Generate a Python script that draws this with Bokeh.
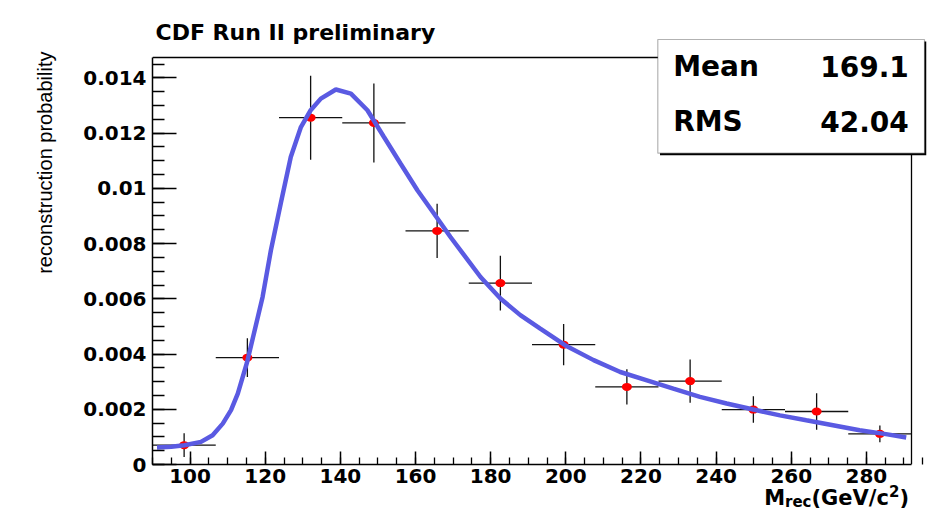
from bokeh.plotting import figure
from bokeh.models import Range1d, FixedTicker, Label, BoxAnnotation, Title, Div
from bokeh.layouts import column
from bokeh.embed import file_html
from bokeh.resources import INLINE

# ---------------- DATA ----------------
bin_low = 90.0
bin_high = 292.0
n_bins = 12
prob = [0.00070, 0.00387, 0.01256, 0.01237, 0.00846, 0.00657,
        0.00434, 0.00281, 0.00302, 0.00199, 0.00192, 0.00111]
prob_err = [0.00043, 0.00070, 0.00152, 0.00143, 0.00098, 0.00099,
            0.00075, 0.00064, 0.00078, 0.00048, 0.00066, 0.00030]
fit_mass = [91.2, 95.0, 98.5, 102.9, 106.0, 108.7, 110.9, 112.7, 115.1, 117.2,
            119.3, 121.5, 124.2, 126.8, 129.5, 132.1, 134.8, 138.8, 142.8, 147.2,
            151.6, 156.0, 160.5, 164.9, 169.3, 177.3, 182.6, 187.9, 193.2, 199.9,
            207.4, 214.5, 221.6, 228.6, 235.7, 242.8, 249.9, 257.0, 264.0, 271.1,
            278.2, 285.2, 290.6]
fit_prob = [0.00062, 0.00064, 0.00070, 0.00082, 0.00106, 0.00148, 0.00197, 0.00257, 0.00367, 0.00486,
            0.00607, 0.00775, 0.00950, 0.01114, 0.01222, 0.01283, 0.01325, 0.01358, 0.01343, 0.01283,
            0.01186, 0.01090, 0.00993, 0.00909, 0.00824, 0.00679, 0.00601, 0.00541, 0.00492, 0.00431,
            0.00378, 0.00335, 0.00305, 0.00275, 0.00245, 0.00221, 0.00199, 0.00178, 0.00160, 0.00142,
            0.00124, 0.00110, 0.00098]
y_top = 0.01474
x_ticks = [100, 120, 140, 160, 180, 200, 220, 240, 260, 280]
y_ticks = [0, 0.002, 0.004, 0.006, 0.008, 0.01, 0.012, 0.014]
y_tick_labels = ["0", "0.002", "0.004", "0.006", "0.008", "0.01", "0.012", "0.014"]
stat_names = ["Mean", "RMS"]
stat_values = ["169.1", "42.04"]
title_text = "CDF Run II preliminary"
y_title = "reconstruction probability"
x_title_html = "M<sub>rec</sub>(GeV/c<sup>2</sup>)"
# --------------------------------------

bin_w = (bin_high - bin_low) / n_bins
centers = [bin_low + (i + 0.5) * bin_w for i in range(n_bins)]

# layout (picture pixels)
W, H = 940, 492
FL, FR, FT, FB = 152, 926, 20, 464      # Bokeh frame edges
AX_R, AX_T = 911, 57                    # where x=bin_high / y=y_top are drawn
sx = (AX_R - FL) / (bin_high - bin_low)
sy = (FB - AX_T) / y_top
X_END = bin_low + (FR - FL) / sx
Y_END = (FB - FT) / sy


def dx(px):
    return bin_low + (px - FL) / sx


def dy(py):
    return (FB - py) / sy


p = figure(width=W, height=H, output_backend="svg", toolbar_location=None,
           x_range=Range1d(bin_low, X_END), y_range=Range1d(0, Y_END),
           min_border_left=FL, min_border_right=W - FR, min_border_top=FT,
           min_border_bottom=H - FB,
           background_fill_color="white", border_fill_color="white",
           outline_line_color=None)
p.grid.visible = False

AX_FONT = "DejaVu Sans"

xa = p.xaxis[0]
xa.bounds = (bin_low, bin_high)
xa.ticker = FixedTicker(ticks=x_ticks, minor_ticks=[85 + 5 * i for i in range(43)])
xa.axis_line_width = 1.5
xa.major_tick_in = 13
xa.major_tick_out = 0
xa.minor_tick_in = 7
xa.minor_tick_out = 0
xa.major_tick_line_width = 1.5
xa.minor_tick_line_width = 1.3
xa.major_label_text_font = AX_FONT
xa.major_label_text_font_style = "bold"
xa.major_label_text_font_size = "20px"
xa.major_label_text_color = "black"
xa.major_label_standoff = 4

ya = p.yaxis[0]
ya.bounds = (0, y_top)
ya.ticker = FixedTicker(ticks=y_ticks, minor_ticks=[0.0005 * i for i in range(30)])
ya.major_label_overrides = {t: l for t, l in zip(y_ticks, y_tick_labels)}
ya.axis_line_width = 1.5
ya.major_tick_in = 24
ya.major_tick_out = 0
ya.minor_tick_in = 12
ya.minor_tick_out = 0
ya.major_tick_line_width = 1.5
ya.minor_tick_line_width = 1.3
ya.major_label_text_font = AX_FONT
ya.major_label_text_font_style = "bold"
ya.major_label_text_font_size = "20px"
ya.major_label_text_color = "black"
ya.major_label_standoff = 6

# y title at the left, aligned to the top of the axis
yt = Title(text=y_title, align="right", offset=31, standoff=50,
           text_font="Liberation Sans", text_font_size="20px",
           text_font_style="normal", text_color="black")
p.add_layout(yt, "left")

# ROOT frame: top and right borders
p.segment(x0=[bin_low], y0=[y_top], x1=[bin_high], y1=[y_top],
          line_color="black", line_width=1.3)
p.segment(x0=[bin_high], y0=[0], x1=[bin_high], y1=[y_top],
          line_color="black", line_width=1.3)

# error bars
p.segment(x0=[c - bin_w / 2 for c in centers], y0=prob,
          x1=[c + bin_w / 2 for c in centers], y1=prob,
          line_color="#111111", line_width=1.3)
p.segment(x0=centers, y0=[v - e for v, e in zip(prob, prob_err)],
          x1=centers, y1=[v + e for v, e in zip(prob, prob_err)],
          line_color="#111111", line_width=1.3)

# markers
p.ellipse(x=centers, y=prob, width=10, height=8, width_units="screen",
          height_units="screen", fill_color="#ff0000", line_color=None)

# fit curve
p.line(fit_mass, fit_prob, line_color="#5a5ae2", line_width=4.5)


def txt(px, py, s, size, align="left", font=AX_FONT, style="bold"):
    p.add_layout(Label(x=dx(px), y=dy(py), text=s, text_font=font,
                       text_font_size=size, text_font_style=style,
                       text_align=align, text_baseline="alphabetic",
                       text_color="black"))


# title
txt(155, 32, title_text, "22px")

# stats box with shadow
p.add_layout(BoxAnnotation(left=dx(659.5), right=dx(926), top=dy(41), bottom=dy(154.7),
                           fill_color="black", fill_alpha=1.0, line_color=None))
p.add_layout(BoxAnnotation(left=dx(657.3), right=dx(924), top=dy(39), bottom=dy(152.7),
                           fill_color="white", fill_alpha=1.0, line_color="black",
                           line_width=1.2))
stat_rows_y = [66, 121]
for name, val, ry in zip(stat_names, stat_values, stat_rows_y):
    txt(672.7, ry, name, "28px")
    txt(908.3, ry, val, "28px", align="right")

# x title below the plot (HTML for sub/superscript)
xdiv = Div(text=x_title_html, width=AX_R - 2, height=510 - H, margin=(0, 0, 0, 0),
           stylesheets=["sub, sup { line-height: 0; font-size: 15px; }",
                        "sub { vertical-align: -2px; }",
                        "sup { vertical-align: 8px; }"],
           styles={"font-family": "DejaVu Sans", "font-weight": "bold",
                   "font-size": "21px", "text-align": "right", "line-height": "0px",
                   "color": "black", "overflow": "visible"})

layout = column(p, xdiv, spacing=0)

open("out.html", "w").write(file_html(layout, INLINE))
